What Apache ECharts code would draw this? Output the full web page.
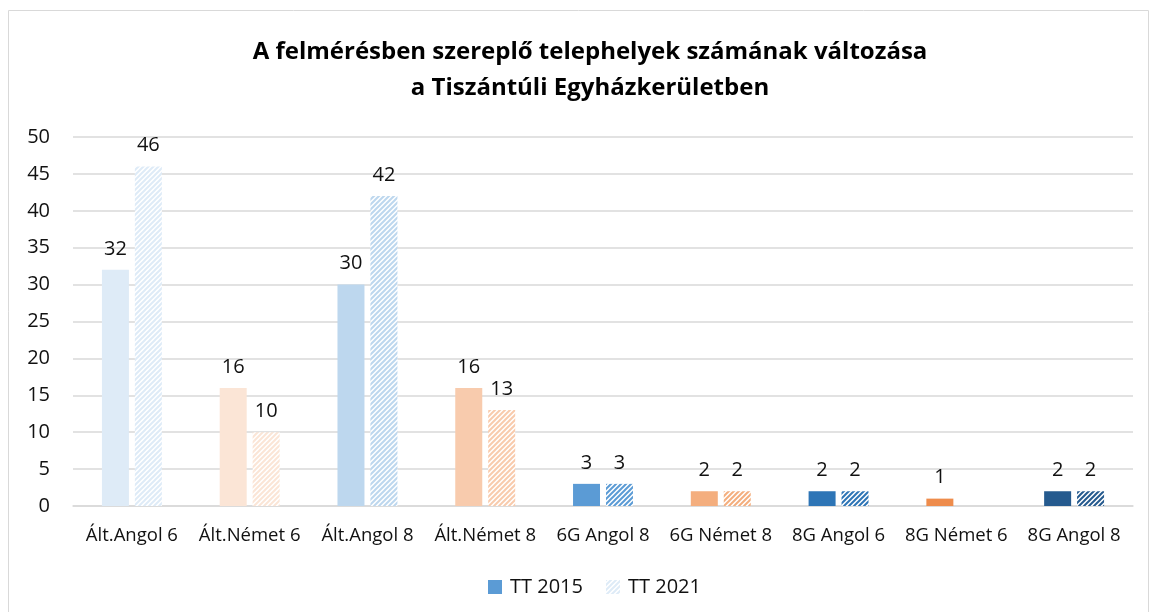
<!DOCTYPE html>
<html>
<head>
<meta charset="utf-8">
<script src="https://cdn.jsdelivr.net/npm/echarts@6/dist/echarts.min.js"></script>
<style>
  html, body { margin: 0; padding: 0; background: #fff; }
  #chart { width: 1150px; height: 612px; }
</style>
</head>
<body>
<div id="chart"></div>
<script>
const categories = ['Ált.Angol 6', 'Ált.Német 6', 'Ált.Angol 8', 'Ált.Német 8', '6G Angol 8', '6G Német 8', '8G Angol 6', '8G Német 6', '8G Angol 8']
const tt2015 = [32, 16, 30, 16, 3, 2, 2, 1, 2]
const tt2021 = [46, 10, 42, 13, 3, 2, 2, null, 2]
const barColors = ['#DEEBF7', '#FBE5D6', '#BDD7EE', '#F8CBAD', '#5B9BD5', '#F4AE7E', '#2E75B6', '#EE8C4C', '#255A8E']
const yTicks = { min: 0, max: 50, interval: 5 }

const font = '"Open Sans", "Liberation Sans", sans-serif'

// diagonal stripes ///
function hatch(color) {
  const c = document.createElement('canvas')
  const s = 5
  c.width = s
  c.height = s
  const ctx = c.getContext('2d')
  ctx.fillStyle = '#fff'
  ctx.fillRect(0, 0, s, s)
  ctx.strokeStyle = color
  ctx.lineWidth = 2
  ctx.beginPath()
  for (let k = -1; k <= 1; k++) {
    ctx.moveTo(k * s - 1, s + 1)
    ctx.lineTo(k * s + s + 1, -1)
  }
  ctx.stroke()
  return { image: c, repeat: 'repeat' }
}

const myChart = echarts.init(document.getElementById('chart'), null, { renderer: 'canvas' })

const labelStyle = {
  show: true,
  position: 'top',
  distance: 11,
  fontSize: 20,
  fontFamily: font,
  color: '#111',
}

myChart.setOption({
  animation: false,
  graphic: [
    {
      type: 'rect',
      shape: { x: 8.5, y: 10.5, width: 1140, height: 610 },
      style: { fill: 'none', stroke: '#D9D9D9', lineWidth: 1 },
      silent: true,
    },
  ],
  title: {
    text: 'A felmérésben szereplő telephelyek számának változása\na Tiszántúli Egyházkerületben',
    left: 585,
    top: 29,
    textAlign: 'center',
    textStyle: {
      fontFamily: font,
      fontWeight: 'bold',
      fontSize: 24,
      lineHeight: 36,
      color: '#000',
    },
  },
  legend: {
    bottom: 10,
    left: 483,
    itemWidth: 14,
    itemHeight: 14,
    itemGap: 23,
    icon: 'rect',
    textStyle: { fontFamily: font, fontSize: 20, color: '#111', padding: [0, 0, 0, 3] },
    data: ['TT 2015', 'TT 2021'],
  },
  grid: {
    left: 73,
    right: 17,
    top: 137,
    bottom: 106,
  },
  xAxis: {
    type: 'category',
    data: categories,
    axisLine: { show: true, lineStyle: { color: '#D9D9D9', width: 1.5 } },
    axisTick: { show: false },
    axisLabel: {
      fontFamily: font,
      fontSize: 18.5,
      color: '#111',
      margin: 20,
      interval: 0,
    },
  },
  yAxis: {
    type: 'value',
    min: yTicks.min,
    max: yTicks.max,
    interval: yTicks.interval,
    axisLine: { show: false },
    axisTick: { show: false },
    splitLine: { lineStyle: { color: '#D9D9D9', width: 1.5 } },
    axisLabel: {
      fontFamily: font,
      fontSize: 20,
      color: '#111',
      margin: 23,
    },
  },
  series: [
    {
      name: 'TT 2015',
      type: 'bar',
      barWidth: 27,
      barGap: '22%',
      itemStyle: { color: '#5B9BD5' },
      label: labelStyle,
      data: tt2015.map((v, i) => ({ value: v, itemStyle: { color: barColors[i] } })),
    },
    {
      name: 'TT 2021',
      type: 'bar',
      barWidth: 27,
      itemStyle: { color: hatch('#DEEBF7') },
      label: labelStyle,
      data: tt2021.map((v, i) => ({ value: v, itemStyle: { color: hatch(barColors[i]) } })),
    },
  ],
})
</script>
</body>
</html>
